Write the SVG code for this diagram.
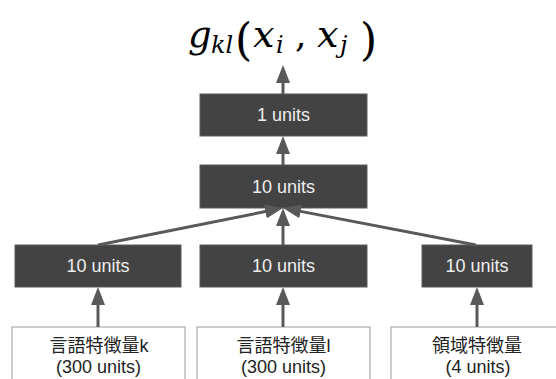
<svg xmlns="http://www.w3.org/2000/svg" width="556" height="379" viewBox="0 0 556 379">
<defs>
<style>
.box{fill:#434343;stroke:#5a5a5a;stroke-width:1}
.in{fill:#ffffff;stroke:#9a9a9a;stroke-width:1}
.bt{font-family:"Liberation Sans",Arial,sans-serif;font-size:18px;fill:#eeeeee;text-anchor:middle}
.it{font-family:"Liberation Sans","Noto Sans CJK JP",sans-serif;font-size:18px;fill:#222222;text-anchor:middle}
.ln{stroke:#595959;stroke-width:3;fill:none;marker-end:url(#a)}
.mi{font-style:italic}
</style>
<marker id="a" markerUnits="userSpaceOnUse" markerWidth="18" markerHeight="14" viewBox="0 0 18 14" refX="8" refY="7" orient="auto">
<path d="M0,0 L18,7 L0,14 z" fill="#595959"/>
</marker>
</defs>
<g id="formula">
<text font-family="'DejaVu Serif','Liberation Serif',serif" fill="#000000" y="47"><tspan class="mi" x="188" font-size="37">g</tspan><tspan class="mi" x="211" y="53" font-size="24">kl</tspan><tspan x="235" y="55" font-size="44">(</tspan><tspan class="mi" x="253" y="47" font-size="38">x</tspan><tspan class="mi" x="276" y="53" font-size="24">i</tspan><tspan x="295" y="47" font-size="36">,</tspan><tspan class="mi" x="317" y="47" font-size="38">x</tspan><tspan class="mi" x="340" y="53" font-size="24">j</tspan><tspan x="360" y="55" font-size="44">)</tspan></text>
</g>
<g id="n_out">
<rect class="box" x="200" y="94" width="167" height="42"/>
<text class="bt" x="283.5" y="121">1 units</text>
</g>
<g id="n_hidden">
<rect class="box" x="200" y="165" width="167" height="43"/>
<text class="bt" x="283.5" y="193">10 units</text>
</g>
<g id="n_k">
<rect class="box" x="15" y="245" width="166" height="42"/>
<text class="bt" x="98" y="272">10 units</text>
</g>
<g id="n_l">
<rect class="box" x="200" y="245" width="167" height="42"/>
<text class="bt" x="283.5" y="272">10 units</text>
</g>
<g id="n_d">
<rect class="box" x="422" y="245" width="110" height="42"/>
<text class="bt" x="477" y="272">10 units</text>
</g>
<g id="in_k">
<rect class="in" x="12" y="327" width="173" height="60"/>
<text class="it" x="99" y="352">言語特徴量k</text>
<text class="it" x="98.5" y="373">(300 units)</text>
</g>
<g id="in_l">
<rect class="in" x="197" y="327" width="173" height="60"/>
<text class="it" x="283.5" y="352">言語特徴量l</text>
<text class="it" x="283.5" y="373">(300 units)</text>
</g>
<g id="in_d">
<rect class="in" x="391" y="327" width="175" height="60"/>
<text class="it" x="477" y="352">領域特徴量</text>
<text class="it" x="478" y="373">(4 units)</text>
</g>
<g id="connectors">
<line class="ln" x1="283" y1="94" x2="283" y2="75"/>
<line class="ln" x1="283" y1="165" x2="283" y2="146"/>
<line class="ln" x1="283" y1="245" x2="283" y2="218"/>
<line class="ln" x1="98" y1="245" x2="273.2" y2="210"/>
<line class="ln" x1="476" y1="245" x2="292.8" y2="209.9"/>
<line class="ln" x1="98" y1="327" x2="98" y2="297"/>
<line class="ln" x1="283" y1="327" x2="283" y2="297"/>
<line class="ln" x1="477" y1="327" x2="477" y2="297"/>
</g>
</svg>
